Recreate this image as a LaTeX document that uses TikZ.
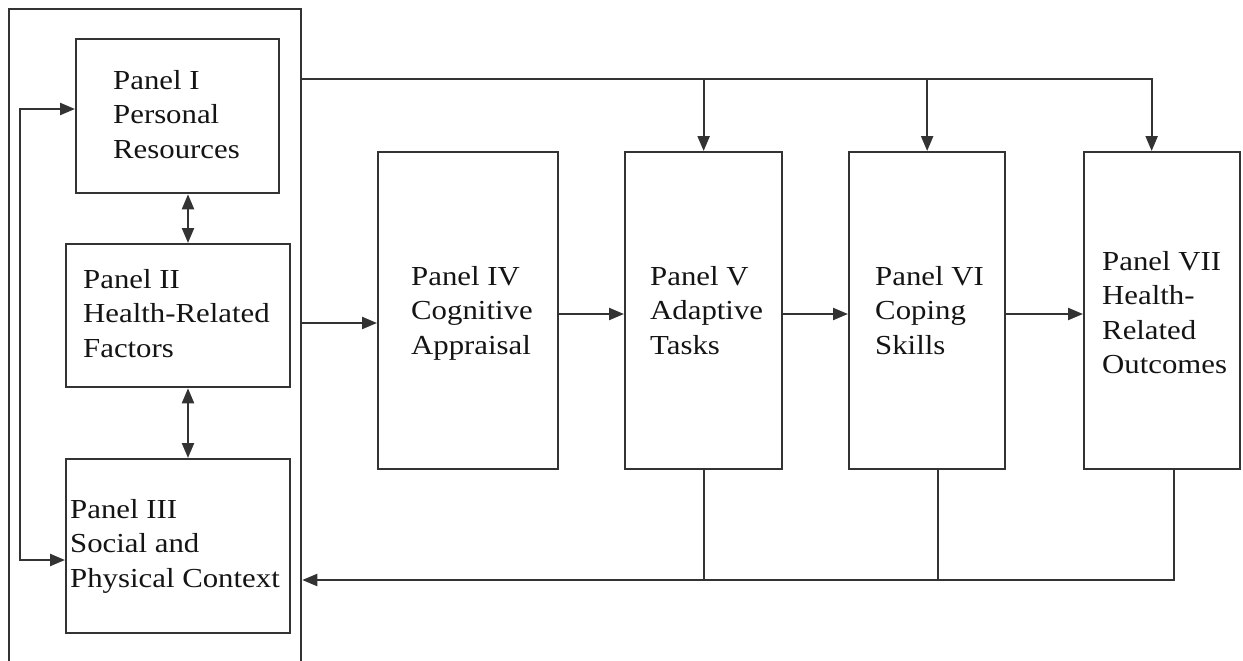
\documentclass[tikz,border=0pt]{standalone}
\usepackage{fontspec}
\setmainfont{Liberation Serif}[FakeStretch=1.12]
\usetikzlibrary{arrows.meta}
\definecolor{ink}{HTML}{333333}
\definecolor{txtc}{HTML}{141414}
\tikzset{
  panel/.style={draw=ink, line width=2.3pt, inner sep=0pt, anchor=north west, fill=none},
  label/.style={anchor=north west, inner sep=0pt, align=left, text=txtc,
    font=\fontsize{27.5}{34.5}\selectfont},
  conn/.style={draw=ink, line width=2.3pt},
  arr/.style={conn, -{Triangle[length=15pt,width=12pt]}},
  darr/.style={conn, {Triangle[length=15pt,width=12pt]}-{Triangle[length=15pt,width=12pt]}},
}
\begin{document}
\begin{tikzpicture}[x=1pt,y=-1pt]
\clip (0,0) rectangle (1243,661);
\fill[white] (0,0) rectangle (1243,661);
% outer group box
\node[panel, minimum width=292pt, minimum height=665pt] (grp) at (8,8) {};
% panels
\node[panel, minimum width=203pt, minimum height=154pt] (p1) at (75,38) {};
\node[panel, minimum width=224pt, minimum height=143pt] (p2) at (65,243) {};
\node[panel, minimum width=224pt, minimum height=174pt] (p3) at (65,458) {};
\node[panel, minimum width=180pt, minimum height=317pt] (p4) at (377,151) {};
\node[panel, minimum width=157pt, minimum height=317pt] (p5) at (624,151) {};
\node[panel, minimum width=156pt, minimum height=317pt] (p6) at (848,151) {};
\node[panel, minimum width=156pt, minimum height=317pt] (p7) at (1083,151) {};
% texts
\node[label] (t1) at (113,70) {Panel I\\Personal\\Resources};
\node[label] (t2) at (83,269) {Panel II\\Health-Related\\Factors};
\node[label] (t3) at (70,499) {Panel III\\Social and\\Physical Context};
\node[label] (t4) at (411,266) {Panel IV\\Cognitive\\Appraisal};
\node[label] (t5) at (650,266) {Panel V\\Adaptive\\Tasks};
\node[label] (t6) at (875,266) {Panel VI\\Coping\\Skills};
\node[label] (t7) at (1102,251) {Panel VII\\Health-\\Related\\Outcomes};
% double arrows in the group
\draw[darr] (p1.south -| 188,0) -- (p2.north -| 188,0);
\draw[darr] (p2.south -| 188,0) -- (p3.north -| 188,0);
% left feedback loop
\draw[darr] (p3.west |- 0,560) -- (20,560) -- (20,109) -- (p1.west |- 0,109);
% top bus
\draw[arr] (grp.east |- 0,79) -| ([xshift=-10.5pt]p7.north);
\draw[arr] (p5.north |- 0,79) -- (p5.north);
\draw[arr] (p6.north |- 0,79) -- (p6.north);
% main flow
\draw[arr] (grp.east |- 0,323) -- (p4.west |- 0,323);
\draw[arr] (p4.east |- 0,314) -- (p5.west |- 0,314);
\draw[arr] (p5.east |- 0,314) -- (p6.west |- 0,314);
\draw[arr] (p6.east |- 0,314) -- (p7.west |- 0,314);
% bottom feedback bus
\draw[conn] ([xshift=11.5pt]p7.south) |- (p5.south |- 0,580);
\draw[conn] ([xshift=11pt]p6.south) -- ([xshift=11pt]p6.south |- 0,580);
\draw[arr] (p5.south) |- (grp.east |- 0,580);
\end{tikzpicture}
\end{document}
